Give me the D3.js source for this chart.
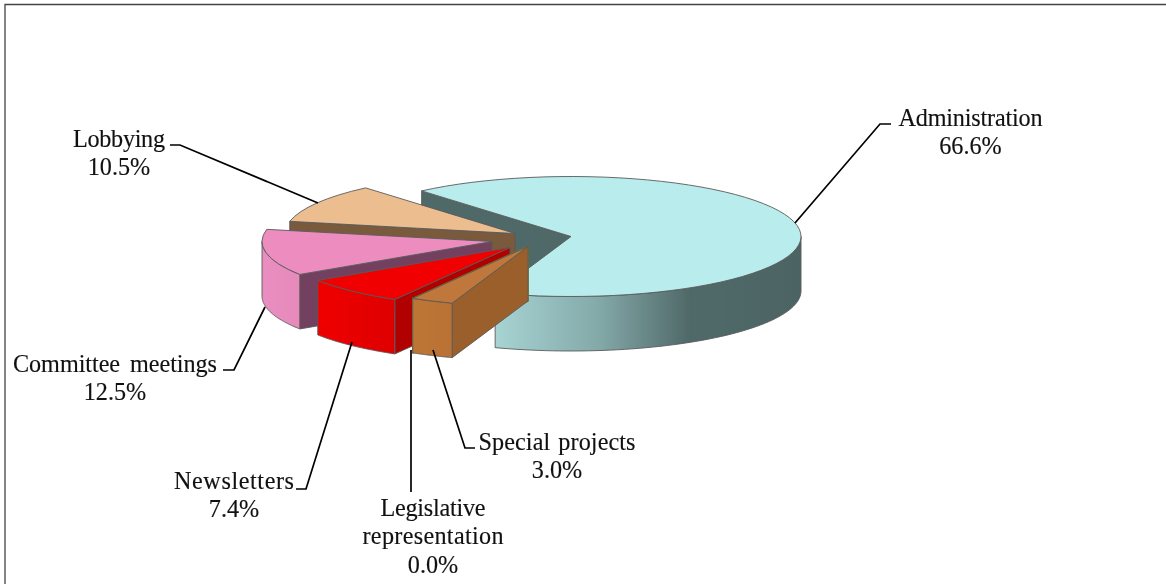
<!DOCTYPE html>
<html>
<head>
<meta charset="utf-8">
<script src="https://cdn.jsdelivr.net/npm/d3@7/dist/d3.min.js"></script>
<style>
html,body{margin:0;padding:0;background:#fff;overflow:hidden}
svg{display:block}
text{font-family:"Liberation Serif","Times New Roman",serif;font-size:24.2px;fill:#111;stroke:#111;stroke-width:0.15;text-anchor:middle}
</style>
</head>
<body>
<svg id="chart" width="1166" height="584"></svg>
<script>
// Data, clockwise from the start of the largest slice
const categories = ["Administration","Special projects","Legislative representation","Newsletters","Committee meetings","Lobbying"];
const shares = [66.6,3.0,0.0,7.4,12.5,10.5];
const shareLabels = ["66.6%","3.0%","0.0%","7.4%","12.5%","10.5%"];

// Layout
const W=1166,H=584,cx=571,cy=236.5,rx=230,ry=60,depth=54.5;
const startDeg=-40.5;
const shiftX=[0,-43,-43,-61,-79,-56];
const shiftY=[0,10,10,11,5,-3];
const drawOrder=[0,5,4,3,2,1];
const topColors=["#b9ecec","#c0773a","#6f7f20","#f00000","#ec8cbf","#ecbd8e"];
const faceColors=["#4f6868","#9a5f2a","#6f7f20","#b00000","#734060","#7a5a3e"];
const wallStops=[
  [[494,"#a8d4d4"],[600,"#83a8a8"],[690,"#506868"],[801,"#4c6464"]],
  [[412,"#bd7535"],[453,"#b97234"]],
  [[412,"#6f7f20"],[413,"#6f7f20"]],
  [[317,"#f00000"],[394,"#de0000"]],
  [[262,"#ea8dc0"],[300,"#e68abc"]],
  [[290,"#ecbd8e"],[366,"#ecbd8e"]]
];
const labelLines=[["Administration"],["Special projects"],["Legislative","representation"],["Newsletters"],["Committee meetings"],["Lobbying"]];
const lineWidths=[[144],[157],[105,141],[120],[204],[92]];
const wordGap=[0,2,0,0,4,0];
const labelX=[970.5,557,433,234,115,119];
const labelY=[126,450,516,489,372,147];
const leaders=[
  [[795,223],[880,124],[891,124]],
  [[475,448],[465,448],[433,350]],
  [[411,492],[411,350]],
  [[296,489],[306,489],[352,342]],
  [[223,370],[234,370],[265,307]],
  [[170,145],[180,145],[318,203]]
];

const svg=d3.select("#chart");
const defs=svg.append("defs");
defs.append("filter").attr("id","soft").attr("x","-5%").attr("y","-5%").attr("width","110%").attr("height","110%")
  .append("feGaussianBlur").attr("stdDeviation",0.45);

// Frame
svg.append("path").attr("d",`M5,${H}V4.5H${W}`).attr("fill","none").attr("stroke","#444").attr("stroke-width",1.3);

const pie=d3.pie().sort(null)
  .startAngle(startDeg*Math.PI/180)
  .endAngle(startDeg*Math.PI/180+2*Math.PI);
const arcs=pie(shares);
const arcTop=d3.arc().innerRadius(0).outerRadius(rx);
const yScale=ry/rx;
const px=a=>rx*Math.sin(a), py=a=>-ry*Math.cos(a);
const line=d3.line();
const outline={stroke:"#5a5a5a","stroke-width":0.9,"stroke-linejoin":"round"};

const pieG=svg.append("g").attr("filter","url(#soft)");

function applyOutline(sel){
  Object.entries(outline).forEach(([k,v])=>sel.attr(k,v));
  return sel;
}

drawOrder.forEach(i=>{
  const d=arcs[i];
  const ox=cx+shiftX[i], oy=cy+shiftY[i];
  const g=pieG.append("g").attr("transform",`translate(${ox},${oy})`);

  // gradient for the outer wall (user space of this slice's group)
  const gid="wall"+i;
  const stops=wallStops[i];
  const gx0=stops[0][0], gx1=stops[stops.length-1][0];
  const grad=defs.append("linearGradient").attr("id",gid).attr("gradientUnits","userSpaceOnUse")
    .attr("x1",gx0-ox).attr("x2",gx1-ox).attr("y1",0).attr("y2",0);
  stops.forEach(s=>grad.append("stop").attr("offset",(s[0]-gx0)/(gx1-gx0)).attr("stop-color",s[1]));

  // visible flat cut at the slice's start angle
  const sx=px(d.startAngle), sy=py(d.startAngle);
  const face=g.append("path")
    .attr("d",line([[0,0],[sx,sy],[sx,sy+depth],[0,depth]])+"Z")
    .attr("fill",faceColors[i]);
  applyOutline(face);

  // outer wall on the front half of the ellipse
  const lo=Math.max(d.startAngle,Math.PI/2), hi=Math.min(d.endAngle,3*Math.PI/2);
  if(hi>lo){
    const n=d3.range(0,61).map(k=>lo+(hi-lo)*k/60);
    const pts=n.map(a=>[px(a),py(a)]).concat(n.slice().reverse().map(a=>[px(a),py(a)+depth]));
    const wall=g.append("path").attr("d",line(pts)+"Z").attr("fill",`url(#${gid})`);
    applyOutline(wall);
  }

  // top surface, through d3.arc squashed to the ellipse
  if(d.endAngle>d.startAngle){
    const top=g.append("path")
      .attr("d",arcTop(d))
      .attr("transform",`scale(1,${yScale})`)
      .attr("fill",topColors[i]);
    applyOutline(top).attr("vector-effect","non-scaling-stroke");
  } else {
    face.attr("stroke",topColors[i]).attr("stroke-width",1.6);
  }
});

// Leader lines
leaders.forEach(pts=>{
  svg.append("path").attr("d",line(pts)).attr("fill","none").attr("stroke","#000").attr("stroke-width",1.7);
});

// Labels
categories.forEach((c,i)=>{
  const lines=labelLines[i].concat([shareLabels[i]]);
  lines.forEach((s,k)=>{
    const t=svg.append("text").attr("x",labelX[i]).attr("y",labelY[i]+k*28.4).text(s);
    if(k<labelLines[i].length){
      t.style("word-spacing",wordGap[i]+"px")
       .attr("textLength",lineWidths[i][k]).attr("lengthAdjust","spacing");
    }
  });
});
</script>
</body>
</html>
